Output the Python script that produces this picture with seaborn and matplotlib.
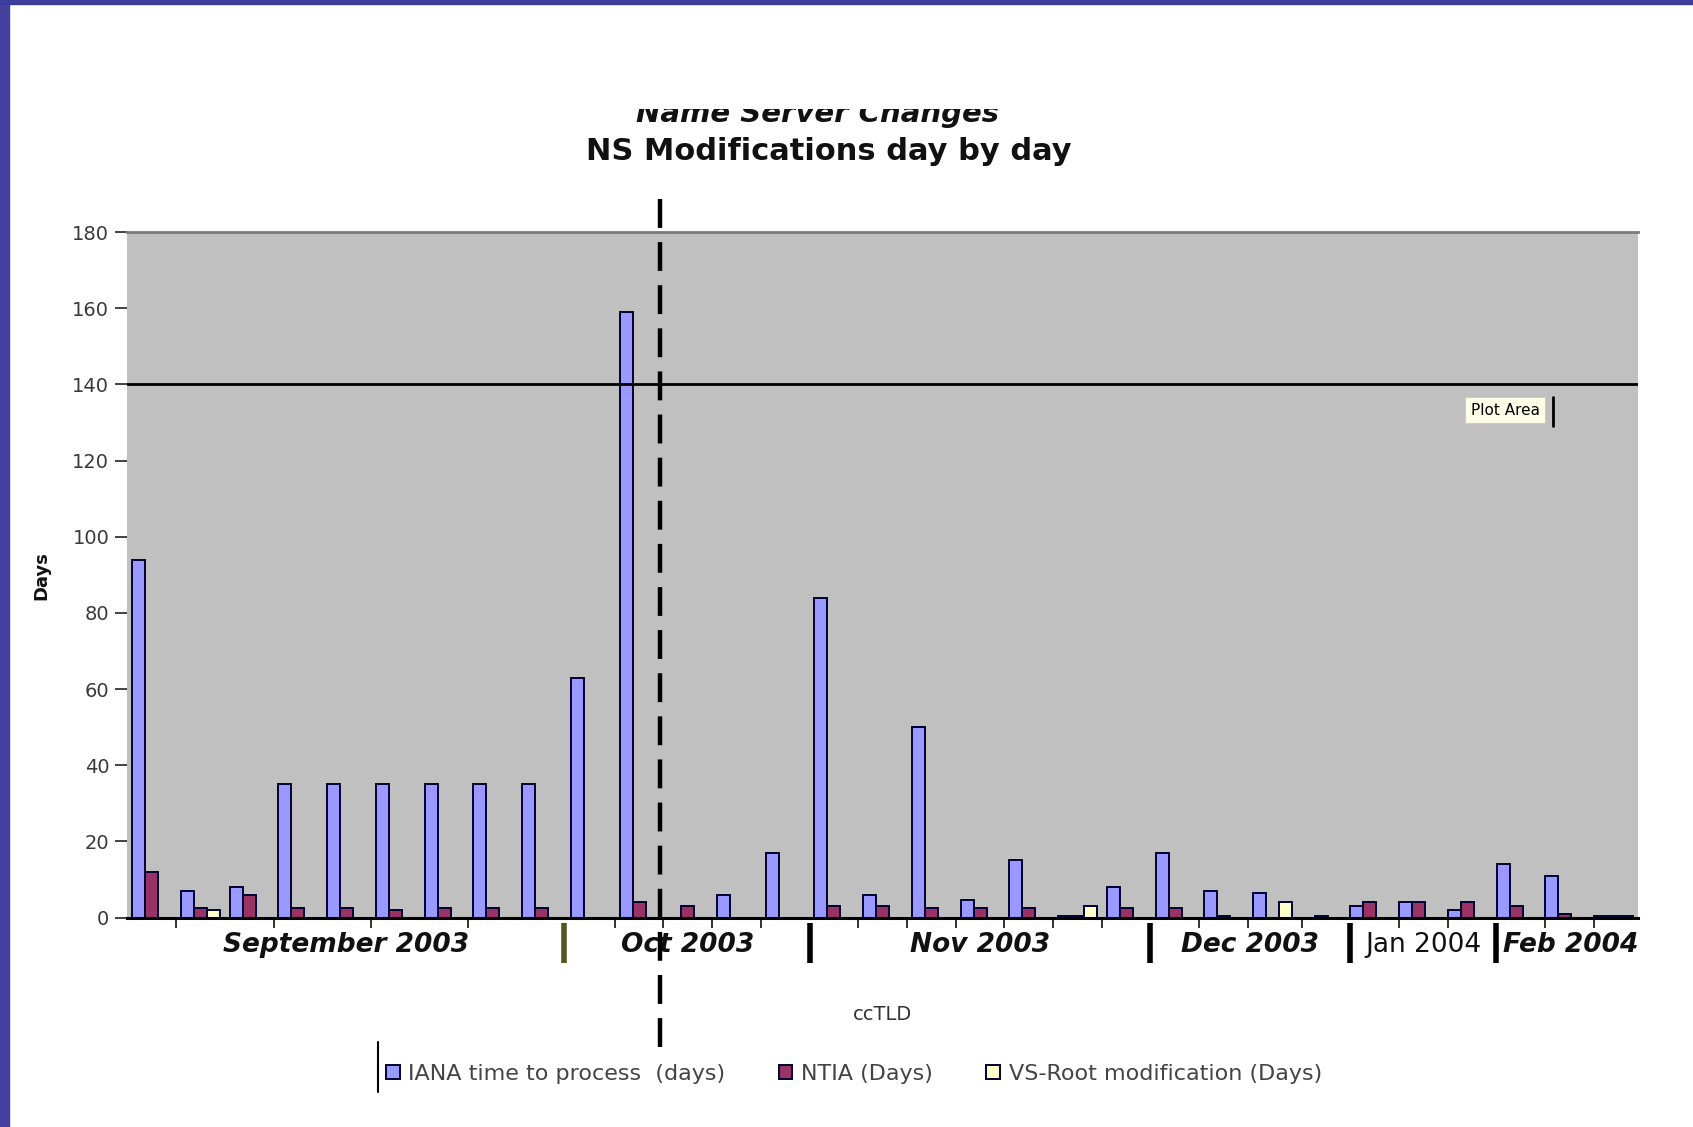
import numpy as np
import pandas as pd
import matplotlib
matplotlib.use("Agg")
import matplotlib.pyplot as plt
import seaborn as sns
from matplotlib.transforms import Bbox, blended_transform_factory
from matplotlib.patches import Rectangle
from matplotlib.lines import Line2D

# ---------------- data ----------------
cctlds = [f"c{i+1:02d}" for i in range(31)]
iana_days = [94, 7, 8, 35, 35, 35, 35, 35, 35, 63, 159, 0, 6, 17, 84, 6, 50, 4.5, 15, 0.5,
             8, 17, 7, 6.5, 0, 3, 4, 2, 14, 11, 0.5]
ntia_days = [12, 2.5, 6, 2.5, 2.5, 2, 2.5, 2.5, 2.5, 0, 4, 3, 0, 0, 3, 3, 2.5, 2.5, 2.5, 0.5,
             2.5, 2.5, 0.5, 0, 0.5, 4, 4, 4, 3, 1, 0.5]
root_days = [0, 2, 0, 0, 0, 0, 0, 0, 0, 0, 0, 0, 0, 0, 0, 0, 0, 0, 0, 3,
             0, 0, 0, 4, 0, 0, 0, 0, 0, 0, 0.5]
series_names = ["IANA time to process  (days)", "NTIA (Days)", "VS-Root modification (Days)"]
months = ["September 2003", "Oct 2003", "Nov 2003", "Dec 2003", "Jan 2004", "Feb 2004"]
month_edges = [-0.5, 8.47, 13.51, 20.49, 24.6, 27.58, 30.5]
y_ticks = [0, 20, 40, 60, 80, 100, 120, 140, 160, 180]
reference_line = 140
policy_change_x = 10.44

df = pd.DataFrame({
    "ccTLD": cctlds * 3,
    "series": [series_names[0]] * 31 + [series_names[1]] * 31 + [series_names[2]] * 31,
    "days": iana_days + ntia_days + root_days,
})

# ---------------- figure ----------------
sns.set_theme(style="white")
plt.rcParams["font.family"] = ["DejaVu Sans"]

W, H = 1568.0, 1044.0   # layout reference units
fig = plt.figure(figsize=(16.93, 11.27), dpi=100)
fig.patch.set_facecolor("white")

ax = fig.add_axes([118 / W, 1 - 850 / H, (1517 - 118) / W, (850 - 215) / H])
ax.set_facecolor("#C0C0C0")

palette = ["#9999FF", "#993366", "#FFFFCC"]
sns.barplot(data=df, x="ccTLD", y="days", hue="series", order=cctlds,
            hue_order=series_names, palette=palette, width=0.8, errorbar=None,
            edgecolor="#000033", linewidth=1.4, saturation=1, ax=ax, legend=True)

ax.set_xlim(-0.5, 30.5)
ax.set_ylim(0, 180)
ax.set_yticks(y_ticks)
ax.set_yticklabels([str(v) for v in y_ticks], fontsize=14, color="#3a3a3a")
ax.tick_params(axis="y", direction="out", length=9, width=1.2, color="#222222", pad=4, left=True)

tick_edges = [0.5, 2.5, 4.5, 6.5, 9.5, 10.5, 11.5, 12.5, 14.5, 15.5, 16.5, 17.5, 18.5,
              19.5, 21.5, 22.5, 23.6, 25.6, 26.6, 28.6, 29.6]
ax.set_xticks(tick_edges)
ax.set_xticklabels([""] * len(tick_edges))
ax.tick_params(axis="x", direction="out", length=7, width=1.2, color="#111111", bottom=True)
ax.set_xlabel("")
ax.set_ylabel("")

for s in ["left", "right"]:
    ax.spines[s].set_visible(False)
ax.spines["top"].set_color("#7a7a7a")
ax.spines["top"].set_linewidth(2)
ax.spines["bottom"].set_color("black")
ax.spines["bottom"].set_linewidth(2.2)

# horizontal reference line
ax.axhline(reference_line, color="black", lw=2)

# dashed vertical policy line
ax.axvline(policy_change_x, ymin=-0.189, ymax=1.063, color="black", lw=3.2,
           dashes=(6.5, 3.2), clip_on=False, zorder=10)

# month separators and labels
tr = blended_transform_factory(ax.transData, ax.transAxes)
sep_colors = ["#555522", "black", "black", "black", "black"]
for k, xe in enumerate(month_edges[1:-1]):
    ax.add_line(Line2D([xe, xe], [-0.008, -0.066], transform=tr, color=sep_colors[k],
                       lw=4, clip_on=False, solid_capstyle="butt"))
for k, m in enumerate(months):
    xc = (month_edges[k] + month_edges[k + 1]) / 2
    if m.startswith("Feb"):
        xc += 0.08
    style = "normal" if m.startswith("Jan") else "italic"
    weight = "normal" if m.startswith("Jan") else "bold"
    ax.text(xc, -0.04, m, transform=tr, ha="center", va="center", fontsize=19,
            fontstyle=style, fontweight=weight, color="#111111", clip_on=False)

# tooltip "Plot Area"
ax.text(0.912, (850 - 380) / 635, "Plot Area", transform=ax.transAxes, ha="center",
        va="center", fontsize=11, color="black",
        bbox=dict(boxstyle="square,pad=0.35", fc="#FFFFE8", ec="#cccccc", lw=0.8))
fig.add_artist(Line2D([1438 / W, 1438 / W], [1 - 368 / H, 1 - 395 / H], color="black", lw=2))

# legend
handles, labels = ax.get_legend_handles_labels()
ax.get_legend().remove()
leg = fig.legend(handles, labels, loc="center", bbox_to_anchor=(791 / W, 1 - 995 / H),
                 ncol=3, frameon=False, fontsize=16, handlelength=0.6, handleheight=0.6,
                 handletextpad=0.4, columnspacing=2.4)
for t in leg.get_texts():
    t.set_color("#444444")
fig.add_artist(Line2D([350 / W, 350 / W], [1 - 965 / H, 1 - 1012 / H], color="black", lw=1.5))

# axis titles
fig.text(38 / W, 1 - 533 / H, "Days", rotation=90, ha="center", va="center",
         fontsize=13, fontweight="bold", color="#111111")
fig.text(817 / W, 1 - 940 / H, "ccTLD", ha="center", va="center", fontsize=14, color="#333333")

# titles
fig.text(768 / W, 1 - 140 / H, "NS Modifications day by day", ha="center", va="center",
         fontsize=22, fontweight="bold", color="#111111")
t1 = fig.text(757 / W, 1 - 113 / H, "Name Server Changes", ha="center", va="baseline",
              fontsize=21, fontweight="bold", fontstyle="italic", color="#111111")
t1.set_clip_on(True)
t1.set_clip_box(Bbox.from_extents(0, 0, fig.bbox.width, fig.bbox.height * (1 - 101 / H)))

# purple frame strips
fig.add_artist(Rectangle((0, 0), 8 / W, 1, transform=fig.transFigure, color="#42429E", zorder=20))
fig.add_artist(Rectangle((0, 1 - 4 / H), 1, 4 / H, transform=fig.transFigure, color="#3C3C9A", zorder=20))

fig.savefig("out.png", dpi=100)
